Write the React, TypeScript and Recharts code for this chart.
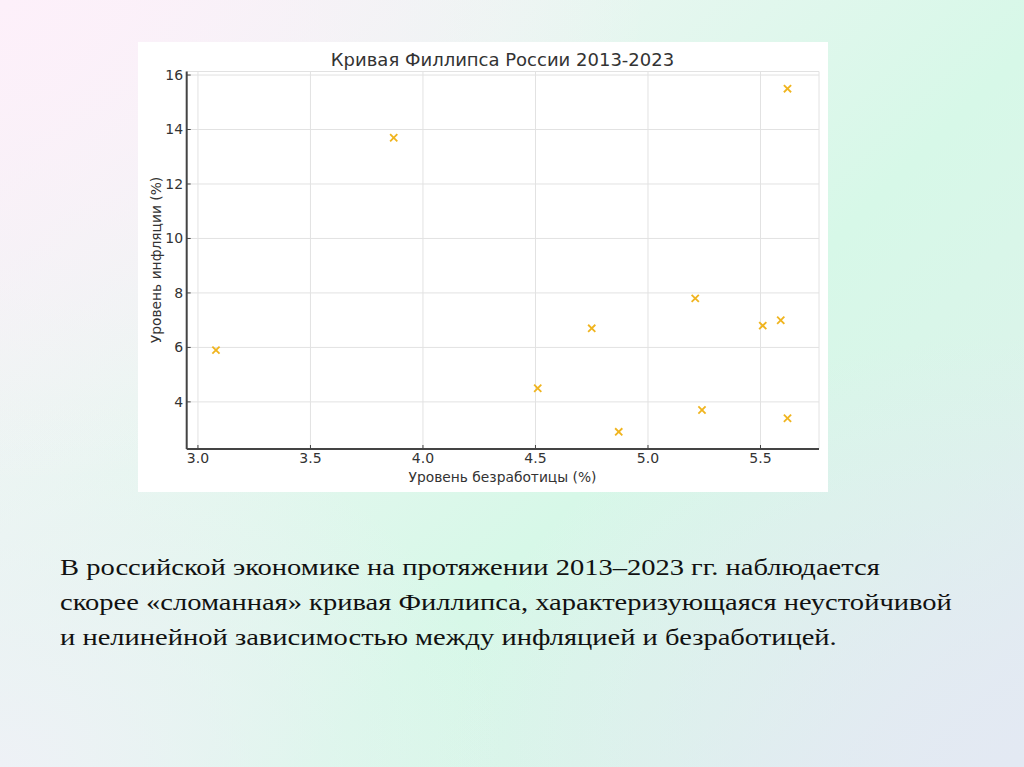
import React from 'react';
import { ScatterChart, Scatter, XAxis, YAxis, CartesianGrid } from 'recharts';

// unemployment (%) and inflation (%) readings, 2013-2023
const unemployment = [3.08, 3.87, 4.51, 4.75, 4.87, 5.21, 5.24, 5.51, 5.59, 5.62, 5.62];
const inflation = [5.9, 13.7, 4.5, 6.7, 2.9, 7.8, 3.7, 6.8, 7.0, 3.4, 15.5];

const xTicks = [3.0, 3.5, 4.0, 4.5, 5.0, 5.5];
const yTicks = [4, 6, 8, 10, 12, 14, 16];

const points = unemployment.map((u, i) => ({ u, inf: inflation[i] }));

const MARK = '#f0b41e';
const AXIS = '#444';
const FONT = '"DejaVu Sans", sans-serif';

const Cross = (props: any) => {
  const { cx, cy } = props;
  const r = 3.6;
  return (
    <g stroke={MARK} strokeWidth={1.8}>
      <line x1={cx - r} y1={cy - r} x2={cx + r} y2={cy + r} />
      <line x1={cx - r} y1={cy + r} x2={cx + r} y2={cy - r} />
    </g>
  );
};

const tickStyle = { fill: '#333', fontSize: 14, fontFamily: FONT };

export default function App() {
  return (
    <div
      style={{
        position: 'absolute',
        left: 0,
        top: 0,
        width: 1024,
        height: 767,
        overflow: 'hidden',
        background:
          'radial-gradient(ellipse at 0% 0%, #fdf0fa 0%, rgba(253,240,250,0) 45%),' +
          'radial-gradient(ellipse at 100% 100%, #e3e9f3 0%, rgba(227,233,243,0) 40%),' +
          'radial-gradient(ellipse at 0% 100%, #eef1f6 0%, rgba(238,241,246,0) 35%),' +
          'linear-gradient(135deg, #f7f1f7 0%, #e9f6f1 30%, #d7f8e8 60%, #dbf4ea 80%, #e4ebf2 100%)',
      }}
    >
      <div style={{ position: 'absolute', left: 138, top: 42, width: 690, height: 450, background: '#fff' }}>
        <ScatterChart width={690} height={450} margin={{ top: 29.5, right: 9, left: 0, bottom: 0 }}>
          <CartesianGrid stroke="#e2e2e2" strokeWidth={1} />
          <XAxis
            type="number"
            dataKey="u"
            domain={[2.95, 5.76]}
            ticks={xTicks}
            tickFormatter={(v: number) => v.toFixed(1)}
            height={43}
            stroke={AXIS}
            axisLine={{ stroke: AXIS, strokeWidth: 2 }}
            tickSize={-4}
            tickMargin={8}
            tick={tickStyle}
            allowDataOverflow
          />
          <YAxis
            type="number"
            dataKey="inf"
            domain={[2.27, 16.13]}
            ticks={yTicks}
            width={48.7}
            stroke={AXIS}
            axisLine={{ stroke: AXIS, strokeWidth: 2 }}
            tickSize={-4}
            tickMargin={7.5}
            tick={tickStyle}
            allowDataOverflow
          />
          <Scatter data={points} shape={<Cross />} isAnimationActive={false} />
        </ScatterChart>
        <div
          style={{
            position: 'absolute',
            left: 364.5,
            top: 17,
            transform: 'translate(-50%, -50%)',
            whiteSpace: 'nowrap',
            fontFamily: FONT,
            fontSize: 18,
            color: '#333',
          }}
        >
          Кривая Филлипса России 2013-2023
        </div>
        <div
          style={{
            position: 'absolute',
            left: 364.5,
            top: 435,
            transform: 'translate(-50%, -50%)',
            whiteSpace: 'nowrap',
            fontFamily: FONT,
            fontSize: 13.8,
            color: '#333',
          }}
        >
          Уровень безработицы (%)
        </div>
        <div
          style={{
            position: 'absolute',
            left: 18,
            top: 218,
            transform: 'translate(-50%, -50%) rotate(-90deg)',
            whiteSpace: 'nowrap',
            fontFamily: FONT,
            fontSize: 13.8,
            color: '#333',
          }}
        >
          Уровень инфляции (%)
        </div>
      </div>
      <div
        style={{
          position: 'absolute',
          left: 60,
          top: 550,
          width: 760,
          whiteSpace: 'nowrap',
          fontFamily: '"Liberation Serif", "Times New Roman", serif',
          fontSize: 23,
          lineHeight: '35px',
          color: '#111',
          transform: 'scaleX(1.24)',
          transformOrigin: '0 0',
        }}
      >
        В российской экономике на протяжении 2013–2023 гг. наблюдается
        <br />
        скорее «сломанная» кривая Филлипса, характеризующаяся неустойчивой
        <br />
        и нелинейной зависимостью между инфляцией и безработицей.
      </div>
    </div>
  );
}
